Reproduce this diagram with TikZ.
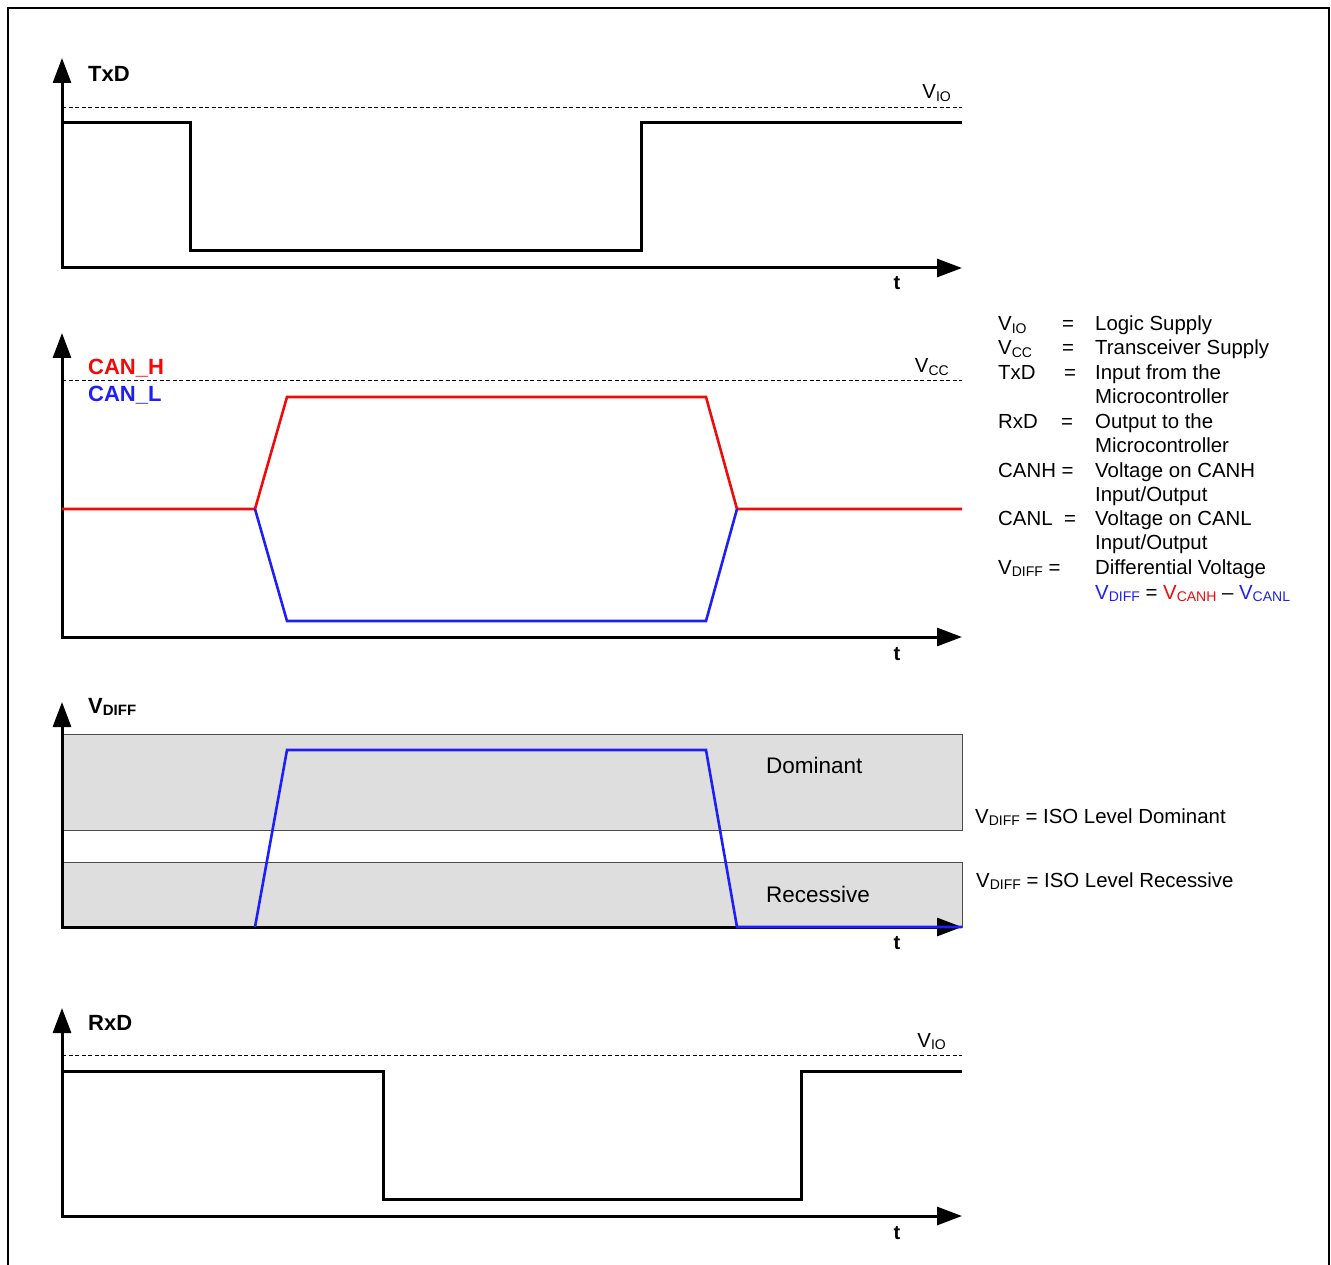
\documentclass[tikz,border=0pt]{standalone}
\usepackage{fontspec}
\setmainfont{Liberation Sans}
\usetikzlibrary{arrows.meta}
\definecolor{canRed}{RGB}{240,10,10}
\definecolor{canBlue}{RGB}{30,30,250}
\definecolor{levelGray}{RGB}{222,222,222}
\newcommand{\subt}[1]{\raisebox{-2.5pt}{\fontsize{14}{14}\selectfont #1}}
\newcommand{\subtb}[1]{\raisebox{-2.5pt}{\fontsize{15}{15}\selectfont\bfseries #1}}

\begin{document}
\begin{tikzpicture}[
  x=1pt, y=-1pt,
  axis/.style={line width=3pt, {Triangle[length=25pt,width=18pt]}-{Triangle[length=25pt,width=18pt]}},
  sig/.style={line width=3pt, black},
  hsig/.style={line width=2.6pt, canRed},
  lsig/.style={line width=2.6pt, canBlue},
  supply/.style={dashed, dash pattern=on 4pt off 2.5pt, line width=0.9pt},
  level/.style={fill=levelGray, draw=black!70, line width=1.1pt},
  lbl/.style={font=\fontsize{22}{26}\selectfont\bfseries, anchor=base west, inner sep=0pt},
  txt/.style={font=\fontsize{20.4}{24}\selectfont, anchor=base west, inner sep=0pt},
  big/.style={font=\fontsize{22.5}{26}\selectfont, anchor=base west, inner sep=0pt},
  tlbl/.style={font=\fontsize{20}{24}\selectfont\bfseries, anchor=base, inner sep=0pt}
]
  \useasboundingbox (0,0) rectangle (1331,1265);
  % frame
  \draw[line width=1.3pt] (8,1265) -- (8,8) -- (1329,8) -- (1329,1265);

  % grey level bands
  \node[level, minimum width=900pt, minimum height=96pt, anchor=north west,
        inner sep=0pt] (dom) at (62,734) {};
  \node[level, minimum width=900pt, minimum height=65pt, anchor=north west,
        inner sep=0pt] (rec) at (62,862) {};

  % axes
  \foreach \ya/\yb in {268/58, 637/333, 927/702, 1216/1008}
    \draw[axis] (62,\yb) -- (62,\ya) -- (962,\ya);

  % supply levels
  \foreach \y in {107, 380, 1055}
    \draw[supply] (62,\y) -- (962,\y);

  % TxD
  \draw[sig] (62,123) -- (190,123) -- (190,251) -- (641,251) -- (641,123) -- (962,123);
  % CAN_H / CAN_L
  \draw[hsig] (62,509) -- (255,509) -- (287,397) -- (706,397) -- (737,509) -- (962,509);
  \draw[lsig] (255,509) -- (287,621) -- (706,621) -- (737,509);
  % VDIFF
  \draw[lsig] (255,927) -- (287,750) -- (706,750) -- (737,927) -- (962,927);
  % RxD
  \draw[sig] (62,1071) -- (383,1071) -- (383,1199) -- (801,1199) -- (801,1071) -- (962,1071);

  % panel labels
  \node[lbl] (txd) at (88,82) {TxD};
  \node[lbl, text=canRed] (canh) at (88,374) {CAN\_H};
  \node[lbl, text=canBlue] (canl) at (88,401) {CAN\_L};
  \node[lbl] (vdiff) at (88,713) {V\subtb{DIFF}};
  \node[lbl] (rxd) at (88,1030) {RxD};

  \node[txt, anchor=base east] (vio1) at (951,99) {V\subt{IO}};
  \node[txt, anchor=base east] (vcc) at (949,373) {V\subt{CC}};
  \node[txt, anchor=base east] (vio2) at (946,1047) {V\subt{IO}};

  \foreach \y [count=\i] in {290, 660, 949, 1239}
    \node[tlbl] (t\i) at (897,\y) {t};

  \node[big] (domtxt) at (766,773) {Dominant};
  \node[big] (rectxt) at (766,902) {Recessive};
  \node[txt] (isodom) at (975,823) {V\subt{DIFF} = ISO Level Dominant};
  \node[txt] (isorec) at (976,887) {V\subt{DIFF} = ISO Level Recessive};

  % legend
  \foreach \y/\a/\b [count=\i] in {
      331/{V\subt{IO}}/{Logic Supply},
      355/{V\subt{CC}}/{Transceiver Supply},
      379/{TxD}/{Input from the},
      403//{Microcontroller},
      428/{RxD}/{Output to the},
      452//{Microcontroller},
      477/{CANH =}/{Voltage on CANH},
      501//{Input/Output},
      525/{CANL}/{Voltage on CANL},
      549//{Input/Output},
      574/{V\subt{DIFF} =}/{Differential Voltage}}
  {
    \node[txt] (key\i) at (998,\y) {\a};
    \node[txt] (desc\i) at (1095,\y) {\b};
  }
  \foreach \y/\x [count=\i] in {331/1062, 355/1062, 379/1064, 428/1061, 525/1064}
    \node[txt] (eq\i) at (\x,\y) {=};
  \node[txt] (formula) at (1095,599)
    {{\color{canBlue}V\subt{DIFF}} = {\color{canRed}V\subt{CANH}} -- {\color{canBlue}V\subt{CANL}}};
\end{tikzpicture}
\end{document}
